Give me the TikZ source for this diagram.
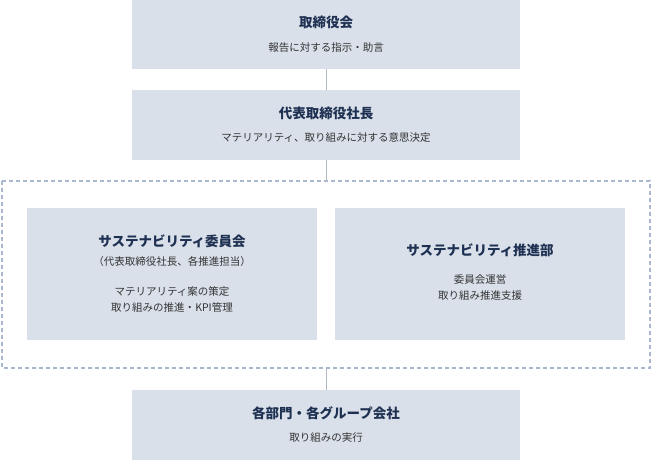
\documentclass[tikz,border=0pt]{standalone}
\usepackage{fontspec}
\setmainfont{Noto Sans CJK JP}
\newfontfamily\cjkb{Noto Sans CJK JP Bold}
\definecolor{boxfill}{HTML}{D9E0EA}
\definecolor{navy}{HTML}{1F3152}
\definecolor{txt}{HTML}{333333}
\definecolor{dashc}{HTML}{A9B8D0}
\definecolor{linec}{HTML}{B0B8C4}
\begin{document}
\begin{tikzpicture}[x=1pt,y=-1pt,
  box/.style={fill=boxfill,draw=none,inner sep=0pt},
  ttl/.style={font=\fontsize{13.5}{16}\selectfont\bfseries,text=navy,align=center},
  sub/.style={font=\fontsize{10.5}{16}\selectfont,text=txt,align=center}]
\useasboundingbox (0,0) rectangle (652,460);
\path[box] (132,0) rectangle (520,69);
\node[box,minimum width=0pt] (b1) at (326,34.5) {};
\path[box] (132,90) rectangle (520,160);
\coordinate (b2t) at (326,90);\coordinate (b2b) at (326,160);
\coordinate (b1b) at (326,69);
\draw[dashc,dashed,line width=1.2pt,dash pattern=on 4pt off 3pt] (2,181) rectangle (650,368);
\coordinate (dt) at (326,181);\coordinate (db) at (326,368);
\path[box] (27,208) rectangle (317,340);
\path[box] (335,208) rectangle (625,340);
\path[box] (132,390) rectangle (520,460);
\coordinate (b4t) at (326,390);
\draw[linec,line width=0.8pt] (b1b)--(b2t) (b2b)--(dt) (db)--(b4t);
\node[ttl] (t1) at (326,22) {取締役会};
\node[sub] (s1) at (326,48) {報告に対する指示・助言};
\node[ttl] (t2) at (326,113) {代表取締役社長};
\node[sub] (s2) at (326,138) {マテリアリティ、取り組みに対する意思決定};
\node[ttl] (t3) at (172,241) {サステナビリティ委員会};
\node[sub] (s3a) at (172,262) {（代表取締役社長、各推進担当）};
\node[sub,align=center] (s3b) at (172,299) {マテリアリティ案の策定\\取り組みの推進・KPI管理};
\node[ttl] (t4) at (480,250) {サステナビリティ推進部};
\node[sub] (s4) at (480,288) {委員会運営\\取り組み推進支援};
\node[ttl] (t5) at (326,413) {各部門・各グループ会社};
\node[sub] (s5) at (326,438) {取り組みの実行};
\end{tikzpicture}
\end{document}
